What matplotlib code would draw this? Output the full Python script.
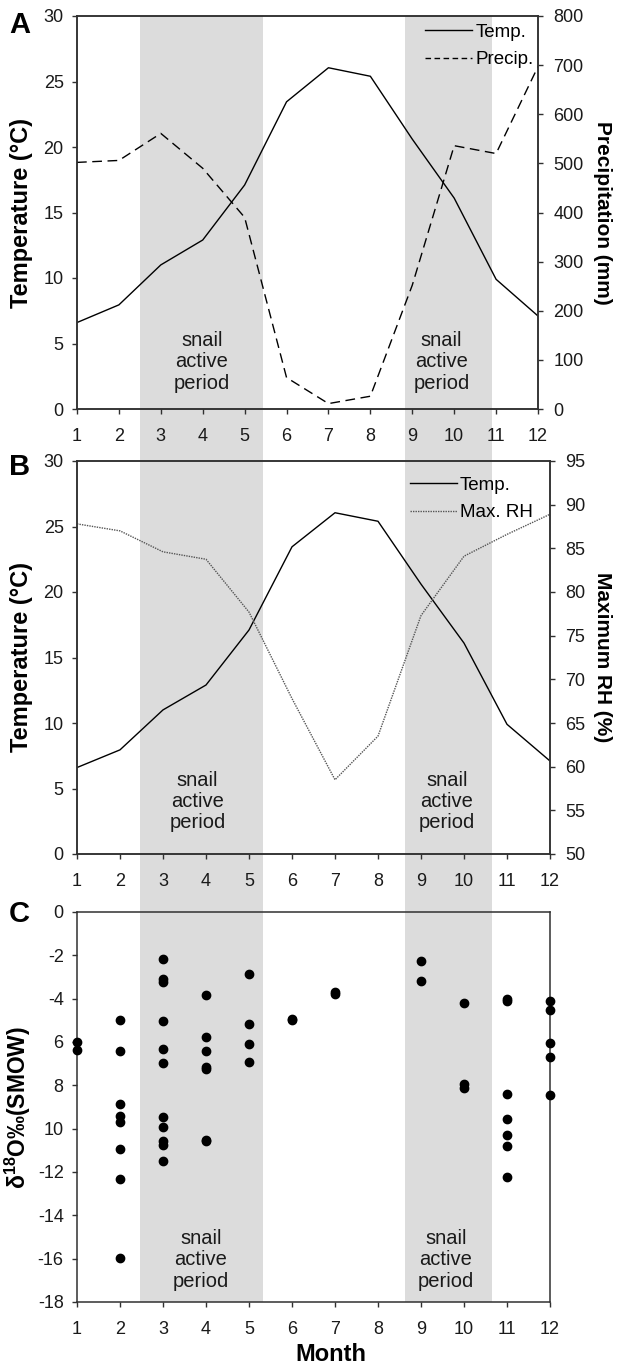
import numpy as np
import matplotlib.pyplot as plt
from matplotlib.lines import Line2D

# Monthly climate values
months = np.arange(1, 13)
temperature = [6.6, 7.95, 11.0, 12.9, 17.1, 23.45, 26.05, 25.4, 20.6, 16.1, 9.9, 7.1]
precipitation = [502, 506, 561, 490, 390, 64, 11, 26, 252, 536, 520, 697]
max_rh = [87.8, 87.0, 84.6, 83.75, 77.7, 67.8, 58.5, 63.5, 77.3, 84.1, 86.6, 88.9]

# Shell d18O values per month
d18o_month = [1, 1,
              2, 2, 2, 2, 2, 2, 2, 2,
              3, 3, 3, 3, 3, 3, 3, 3, 3, 3, 3,
              4, 4, 4, 4, 4, 4, 4,
              5, 5, 5, 5,
              6, 6,
              7, 7,
              9, 9,
              10, 10, 10,
              11, 11, 11, 11, 11, 11, 11,
              12, 12, 12, 12, 12]
d18o_value = [-6.0, -6.35,
              -5.0, -6.4, -8.85, -9.4, -9.7, -10.95, -12.3, -15.95,
              -2.15, -3.1, -3.25, -5.05, -6.3, -6.95, -9.45, -9.9, -10.55, -10.75, -11.5,
              -3.85, -5.75, -6.4, -7.15, -7.25, -10.5, -10.55,
              -2.85, -5.15, -6.1, -6.9,
              -4.95, -5.0,
              -3.7, -3.8,
              -2.25, -3.2,
              -4.2, -7.95, -8.1,
              -4.0, -4.1, -8.4, -9.55, -10.3, -10.8, -12.25,
              -4.1, -4.5, -6.05, -6.7, -8.45]
d18o_ticks = [0, -2, -4, -6, -8, -10, -12, -14, -16, -18]
d18o_ticklabels = ['0', '-2', '-4', '6', '8', '10', '-12', '-14', '-16', '-18']

# Snail active periods (in month units of each panel)
active_a = [(2.50, 5.44), (8.83, 10.90)]
active_bc = [(2.46, 5.33), (8.63, 10.65)]
snail_x_a = [3.98, 9.70]
snail_x_b = [3.80, 9.60]
snail_x_c = [3.88, 9.58]

SHADE = '#dcdcdc'
SPINE = '#303030'
TICK_FS = 13
LEGEND_FS = 13.5

plt.rcParams['font.family'] = 'Liberation Sans'
plt.rcParams['mathtext.fontset'] = 'custom'
plt.rcParams['mathtext.rm'] = 'Liberation Sans'
plt.rcParams['mathtext.bf'] = 'Liberation Sans:bold'


def style_axis(ax):
    for sp in ax.spines.values():
        sp.set_color(SPINE)
        sp.set_linewidth(1.1)
    ax.tick_params(direction='out', length=3.6, width=1.0, color=SPINE,
                   labelsize=TICK_FS, labelcolor='#1a1a1a')
    ax.tick_params(axis='x', pad=10)
    ax.tick_params(axis='y', pad=6)
    ax.set_xlim(1, 12)
    ax.set_xticks(months)


def shade(ax, periods, extend_below):
    for start, end in periods:
        ax.axvspan(start, end, ymin=-extend_below, ymax=1, color=SHADE, lw=0,
                   zorder=0, clip_on=False)


def snail_label(ax, xs, y):
    for x in xs:
        ax.text(x, y, 'snail\nactive\nperiod', ha='center', va='center',
                fontsize=14.5, linespacing=1.15, color='#1a1a1a', zorder=3)


def add_legend(ax, handles, labels, anchor):
    ax.legend(handles, labels, loc='upper right', bbox_to_anchor=anchor,
              frameon=False, fontsize=LEGEND_FS, handlelength=2.5,
              handletextpad=0.15, labelspacing=0.55, borderpad=0,
              borderaxespad=0)


fig = plt.figure(figsize=(6.17, 13.66), dpi=100)
W, H = 617, 1366
ax_a = fig.add_axes([77 / W, 1 - 409 / H, 461 / W, 393 / H])
ax_b = fig.add_axes([77 / W, 1 - 854 / H, 473 / W, 393 / H])
ax_c = fig.add_axes([77 / W, 1 - 1302 / H, 473 / W, 390 / H])

gap_ab = (ax_a.get_position().y0 - ax_b.get_position().y1) / ax_a.get_position().height
gap_bc = (ax_b.get_position().y0 - ax_c.get_position().y1) / ax_b.get_position().height

# Panel A: temperature and precipitation
style_axis(ax_a)
shade(ax_a, active_a, gap_ab)
ax_a.plot(months, temperature, color='black', lw=1.0, zorder=2)
ax_a.set_ylim(0, 30)
ax_a.set_yticks(np.arange(0, 31, 5))
ax_a.set_ylabel('Temperature (°C)', fontsize=17, fontweight='bold')
ax_a.yaxis.set_label_coords(-0.095, 0.5)
snail_label(ax_a, snail_x_a, 3.6)

ax_a2 = ax_a.twinx()
style_axis(ax_a2)
ax_a2.tick_params(axis='y', pad=7.5)
ax_a2.plot(months, precipitation, color='black', lw=1.0, linestyle=(0, (7, 4)))
ax_a2.set_ylim(0, 800)
ax_a2.set_yticks(np.arange(0, 801, 100))
ax_a2.set_ylabel('Precipitation (mm)', fontsize=15, fontweight='bold',
                 rotation=270, va='bottom')
ax_a2.yaxis.set_label_coords(1.119, 0.5)
add_legend(ax_a2,
           [Line2D([], [], color='black', lw=1.0),
            Line2D([], [], color='black', lw=1.0, linestyle=(0, (4, 2.5)))],
           ['Temp.', 'Precip.'], (0.99, 0.98))

# Panel B: temperature and maximum relative humidity
style_axis(ax_b)
shade(ax_b, active_bc, gap_bc)
ax_b.plot(months, temperature, color='black', lw=1.0, zorder=2)
ax_b.set_ylim(0, 30)
ax_b.set_yticks(np.arange(0, 31, 5))
ax_b.set_ylabel('Temperature (°C)', fontsize=17, fontweight='bold')
ax_b.yaxis.set_label_coords(-0.093, 0.5)
snail_label(ax_b, snail_x_b, 4.0)

ax_b2 = ax_b.twinx()
style_axis(ax_b2)
ax_b2.tick_params(axis='y', pad=7.5)
ax_b2.plot(months, max_rh, color='#555555', lw=1.0, linestyle=(0, (1, 0.8)))
ax_b2.set_ylim(50, 95)
ax_b2.set_yticks(np.arange(50, 96, 5))
ax_b2.set_ylabel('Maximum RH (%)', fontsize=15, fontweight='bold',
                 rotation=270, va='bottom')
ax_b2.yaxis.set_label_coords(1.091, 0.5)
add_legend(ax_b2,
           [Line2D([], [], color='black', lw=1.0),
            Line2D([], [], color='#555555', lw=1.0, linestyle=(0, (1, 0.8)))],
           ['Temp.', 'Max. RH'], (0.963, 0.96))

# Panel C: shell oxygen isotopes
style_axis(ax_c)
shade(ax_c, active_bc, 0)
ax_c.plot(d18o_month, d18o_value, 'o', color='black', ms=6, clip_on=False, zorder=3)
ax_c.set_ylim(-18, 0)
ax_c.set_yticks(d18o_ticks)
ax_c.set_yticklabels(d18o_ticklabels)
ax_c.set_ylabel('δ$^{\\mathbf{18}}$O‰(SMOW)', fontsize=16.5, fontweight='bold')
ax_c.yaxis.set_label_coords(-0.093, 0.5)
ax_c.set_xlabel('Month', fontsize=17, fontweight='bold')
ax_c.xaxis.set_label_coords(0.537, -0.105)
snail_label(ax_c, snail_x_c, -16.06)

# Panel letters
for letter, base in [('A', 33), ('B', 475), ('C', 922)]:
    fig.text(9 / W, 1 - base / H, letter, fontsize=21, fontweight='bold',
             va='baseline', ha='left')

fig.savefig('out.png', dpi=100)
